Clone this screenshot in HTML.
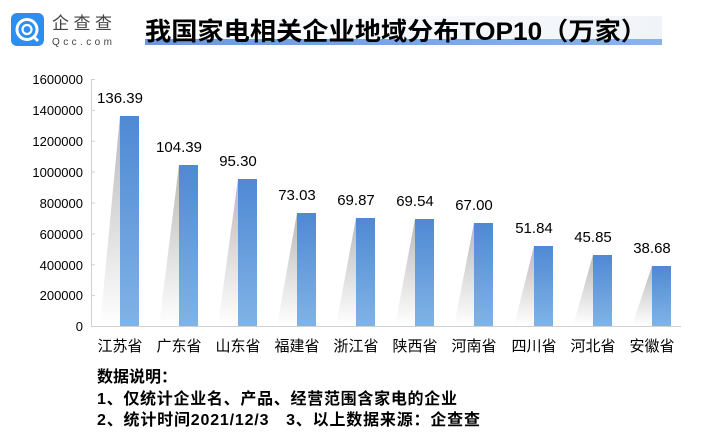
<!DOCTYPE html>
<html><head><meta charset="utf-8">
<style>
html,body{margin:0;padding:0;background:#fff;}
body{width:725px;height:438px;overflow:hidden;font-family:"Liberation Sans","Noto Sans CJK SC",sans-serif;}
</style></head><body>
<svg width="725" height="438" viewBox="0 0 725 438" xmlns="http://www.w3.org/2000/svg" font-family="Liberation Sans, Noto Sans CJK SC, sans-serif">
<defs>
<linearGradient id="bar" x1="0" y1="0" x2="0" y2="1"><stop offset="0" stop-color="#4f89d3"/><stop offset="1" stop-color="#80b3e6"/></linearGradient>
<linearGradient id="sh" x1="0" y1="0" x2="0" y2="1"><stop offset="0" stop-color="#b8b8b8"/><stop offset="1" stop-color="#ffffff"/></linearGradient>
<linearGradient id="tl" x1="0" y1="0" x2="1" y2="0"><stop offset="0" stop-color="#ffffff"/><stop offset="1" stop-color="#f0f3f8"/></linearGradient>
<linearGradient id="ul" x1="0" y1="0" x2="1" y2="0"><stop offset="0" stop-color="#6a9ad8"/><stop offset="1" stop-color="#8ab4e8"/></linearGradient>
</defs>
<rect x="11" y="13" width="33" height="33" rx="6" fill="#2b8ef0"/>
<circle cx="27" cy="29.5" r="10" fill="none" stroke="#fff" stroke-width="3"/>
<circle cx="27" cy="29.5" r="4.5" fill="none" stroke="#fff" stroke-width="2.2"/>
<line x1="33" y1="36" x2="38" y2="41" stroke="#fff" stroke-width="3"/>
<text x="52" y="29" font-size="17" fill="#444" textLength="60">企查查</text>
<text x="52" y="45" font-size="10" fill="#444" textLength="60">Qcc.com</text>
<rect x="145" y="16" width="517" height="29" fill="url(#tl)"/>
<rect x="145" y="39" width="517" height="6" fill="url(#ul)"/>
<text x="145" y="40" font-size="25" font-weight="bold" fill="#000" textLength="502" lengthAdjust="spacingAndGlyphs">我国家电相关企业地域分布TOP10（万家）</text>
<line x1="91.5" y1="80" x2="91.5" y2="327" stroke="#d0d0d0"/>
<line x1="91" y1="326.5" x2="681" y2="326.5" stroke="#d0d0d0"/>
<g stroke="#d0d0d0">
<line x1="91" y1="79.5" x2="95" y2="79.5"/><line x1="91" y1="110.4" x2="95" y2="110.4"/><line x1="91" y1="141.3" x2="95" y2="141.3"/><line x1="91" y1="172.1" x2="95" y2="172.1"/><line x1="91" y1="203" x2="95" y2="203"/><line x1="91" y1="233.9" x2="95" y2="233.9"/><line x1="91" y1="264.8" x2="95" y2="264.8"/><line x1="91" y1="295.6" x2="95" y2="295.6"/>
</g>
<g font-size="13" fill="#000" text-anchor="end">
<text x="83" y="84">1600000</text><text x="83" y="115">1400000</text><text x="83" y="146">1200000</text><text x="83" y="177">1000000</text><text x="83" y="208">800000</text><text x="83" y="239">600000</text><text x="83" y="270">400000</text><text x="83" y="300">200000</text><text x="83" y="331">0</text>
</g>
<g font-size="16" font-weight="bold" fill="#000">
<text x="97" y="382">数据说明：</text>
<text x="97" y="404" textLength="360">1、仅统计企业名、产品、经营范围含家电的企业</text>
<text x="97" y="425" textLength="383">2、统计时间2021/12/3　3、以上数据来源：企查查</text>
</g>
<g>
<polygon points="100,326 120,116 120,326" fill="url(#sh)"/><rect x="120" y="116" width="19" height="210" fill="url(#bar)"/>
<polygon points="159,326 179,165 179,326" fill="url(#sh)"/><rect x="179" y="165" width="19" height="161" fill="url(#bar)"/>
<polygon points="218,326 238,179 238,326" fill="url(#sh)"/><rect x="238" y="179" width="19" height="147" fill="url(#bar)"/>
<polygon points="277,326 297,213 297,326" fill="url(#sh)"/><rect x="297" y="213" width="19" height="113" fill="url(#bar)"/>
<polygon points="336,326 356,218 356,326" fill="url(#sh)"/><rect x="356" y="218" width="19" height="108" fill="url(#bar)"/>
<polygon points="395,326 415,219 415,326" fill="url(#sh)"/><rect x="415" y="219" width="19" height="107" fill="url(#bar)"/>
<polygon points="454,326 474,223 474,326" fill="url(#sh)"/><rect x="474" y="223" width="19" height="103" fill="url(#bar)"/>
<polygon points="514,326 534,246 534,326" fill="url(#sh)"/><rect x="534" y="246" width="19" height="80" fill="url(#bar)"/>
<polygon points="573,326 593,255 593,326" fill="url(#sh)"/><rect x="593" y="255" width="19" height="71" fill="url(#bar)"/>
<polygon points="632,326 652,266 652,326" fill="url(#sh)"/><rect x="652" y="266" width="19" height="60" fill="url(#bar)"/>
</g>
<g font-size="15" fill="#000" text-anchor="middle">
<text x="120" y="103">136.39</text>
<text x="179" y="152">104.39</text>
<text x="238" y="166">95.30</text>
<text x="297" y="200">73.03</text>
<text x="356" y="205">69.87</text>
<text x="415" y="206">69.54</text>
<text x="474" y="210">67.00</text>
<text x="534" y="233">51.84</text>
<text x="593" y="242">45.85</text>
<text x="652" y="253">38.68</text>
</g>
<g font-size="15" fill="#000" text-anchor="middle">
<text x="120" y="351">江苏省</text><text x="179" y="351">广东省</text><text x="238" y="351">山东省</text><text x="297" y="351">福建省</text><text x="356" y="351">浙江省</text><text x="415" y="351">陕西省</text><text x="474" y="351">河南省</text><text x="534" y="351">四川省</text><text x="593" y="351">河北省</text><text x="652" y="351">安徽省</text>
</g>
</svg>
</body></html>
